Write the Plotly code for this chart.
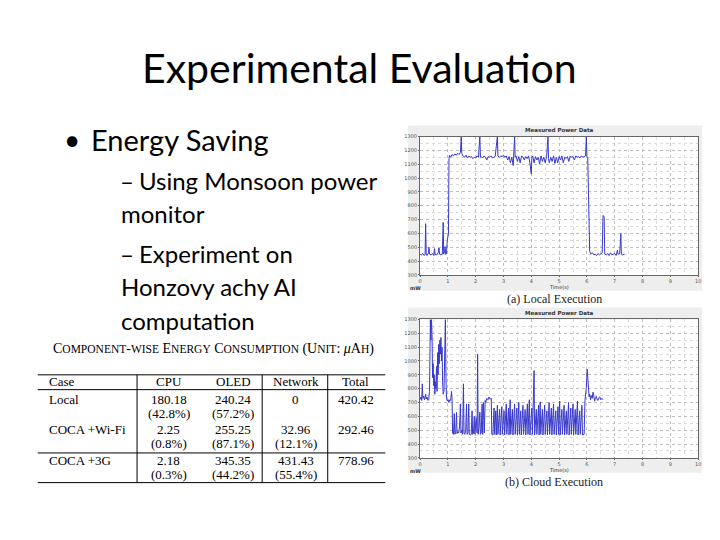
import plotly.graph_objects as go

# ---------------- data ----------------
local_t = [0.00, 0.05, 0.10, 0.15, 0.18, 0.20, 0.22, 0.25, 0.30, 0.32, 0.34, 0.40, 0.45, 0.50, 0.52, 0.54,
           0.60, 0.65, 0.68, 0.70, 0.75, 0.80, 0.83, 0.85, 0.88, 0.90, 0.92, 0.95, 0.98, 1.00, 1.02, 1.04,
           1.06, 1.10, 1.15, 1.20, 1.25, 1.30, 1.35, 1.40, 1.45, 1.48, 1.50, 1.55, 1.60, 1.65, 1.70, 1.75,
           1.80, 1.85, 1.90, 1.95, 2.00, 2.05, 2.10, 2.15, 2.17, 2.20, 2.25, 2.30, 2.35, 2.40, 2.45, 2.50,
           2.55, 2.60, 2.65, 2.70, 2.78, 2.80, 2.85, 2.90, 2.95, 3.00, 3.05, 3.10, 3.15, 3.20, 3.25, 3.30,
           3.35, 3.40, 3.42, 3.45, 3.50, 3.55, 3.60, 3.65, 3.70, 3.75, 3.80, 3.85, 3.90, 3.95, 4.00, 4.02,
           4.05, 4.10, 4.15, 4.20, 4.25, 4.30, 4.35, 4.40, 4.45, 4.50, 4.55, 4.60, 4.62, 4.65, 4.70, 4.75,
           4.80, 4.85, 4.90, 4.95, 5.00, 5.05, 5.10, 5.15, 5.20, 5.25, 5.30, 5.35, 5.40, 5.45, 5.50, 5.55,
           5.60, 5.65, 5.70, 5.75, 5.80, 5.85, 5.90, 5.95, 5.98, 6.00, 6.03, 6.05, 6.07, 6.10, 6.15, 6.20,
           6.25, 6.30, 6.35, 6.40, 6.45, 6.50, 6.55, 6.58, 6.62, 6.64, 6.70, 6.75, 6.80, 6.85, 6.90, 6.95,
           7.00, 7.05, 7.10, 7.12, 7.18, 7.22, 7.24, 7.28, 7.35]
local_mw = [450, 445, 455, 440, 450, 670, 450, 440, 460, 500, 450, 445, 455, 440, 490, 450,
            445, 460, 495, 450, 445, 450, 680, 450, 470, 505, 450, 455, 560, 585, 590, 1140,
            1165, 1150, 1170, 1160, 1175, 1165, 1180, 1170, 1185, 1300, 1175, 1160, 1150, 1165, 1145, 1160,
            1150, 1155, 1140, 1150, 1145, 1160, 1150, 1300, 1150, 1155, 1145, 1160, 1150, 1130, 1155, 1150,
            1160, 1145, 1150, 1155, 1300, 1160, 1150, 1160, 1155, 1165, 1150, 1160, 1130, 1155, 1110, 1150,
            1090, 1300, 1150, 1160, 1120, 1155, 1110, 1160, 1150, 1130, 1155, 1140, 1160, 1110, 1030, 1150,
            1160, 1110, 1155, 1130, 1150, 1100, 1160, 1120, 1150, 1110, 1155, 1300, 1140, 1110, 1150, 1120,
            1160, 1105, 1150, 1110, 1155, 1130, 1160, 1110, 1150, 1140, 1155, 1120, 1160, 1150, 1155, 1130,
            1160, 1150, 1155, 1145, 1160, 1150, 1155, 1160, 1300, 1155, 1150, 900, 540, 470, 450, 460,
            445, 450, 440, 455, 445, 450, 460, 730, 720, 450, 445, 455, 440, 460, 445, 450,
            455, 440, 480, 450, 455, 600, 450, 445, 450]

cloud_t = [0.00, 0.03, 0.06, 0.08, 0.10, 0.13, 0.16, 0.20, 0.22, 0.25, 0.28, 0.31, 0.34, 0.37, 0.39, 0.41,
           0.43, 0.45, 0.47, 0.49, 0.51, 0.53, 0.55, 0.57, 0.59, 0.61, 0.63, 0.65, 0.67, 0.69, 0.71, 0.73,
           0.75, 0.77, 0.79, 0.81, 0.83, 0.86, 0.89, 0.91, 0.93, 0.95, 0.98, 1.01, 1.04, 1.07, 1.10, 1.13,
           1.15, 1.17, 1.20, 1.23, 1.25, 1.28, 1.31, 1.33, 1.36, 1.39, 1.42, 1.45, 1.47, 1.50, 1.53, 1.56,
           1.58, 1.61, 1.64, 1.67, 1.69, 1.72, 1.75, 1.77, 1.80, 1.84, 1.87, 1.89, 1.92, 1.95, 1.97, 2.00,
           2.02, 2.05, 2.07, 2.09, 2.12, 2.15, 2.17, 2.20, 2.23, 2.25, 2.28, 2.31, 2.34, 2.36, 2.40, 2.44,
           2.48, 2.52, 2.56, 2.58, 2.62, 2.66, 2.68, 2.72, 2.74, 2.78, 2.80, 2.86, 2.88, 2.94, 2.96, 3.02,
           3.04, 3.10, 3.12, 3.18, 3.20, 3.24, 3.26, 3.32, 3.34, 3.40, 3.42, 3.48, 3.50, 3.55, 3.57, 3.62,
           3.64, 3.70, 3.72, 3.78, 3.80, 3.86, 3.88, 3.93, 3.95, 4.02, 4.04, 4.10, 4.12, 4.18, 4.20, 4.26,
           4.28, 4.32, 4.34, 4.40, 4.42, 4.48, 4.50, 4.56, 4.58, 4.64, 4.66, 4.72, 4.74, 4.80, 4.82, 4.88,
           4.90, 4.96, 4.98, 5.02, 5.04, 5.10, 5.12, 5.18, 5.20, 5.26, 5.28, 5.34, 5.36, 5.42, 5.44, 5.50,
           5.52, 5.58, 5.60, 5.66, 5.68, 5.74, 5.76, 5.82, 5.84, 5.90, 5.93, 5.96, 5.98, 6.01, 6.03, 6.05,
           6.08, 6.10, 6.13, 6.16, 6.19, 6.22, 6.25, 6.28, 6.31, 6.34, 6.37, 6.40, 6.43, 6.46, 6.50, 6.54,
           6.58]
cloud_mw = [720, 740, 715, 835, 730, 745, 720, 760, 725, 740, 715, 720, 780, 1300, 1150, 1300,
            1190, 880, 980, 820, 900, 760, 850, 800, 960, 780, 1060, 900, 1120, 980, 1150, 1050,
            1170, 1000, 1100, 850, 760, 780, 1000, 1300, 900, 730, 710, 720, 700, 720, 715, 780,
            730, 480, 470, 620, 470, 480, 630, 475, 490, 480, 530, 690, 480, 500, 470, 835,
            480, 470, 500, 690, 470, 480, 690, 470, 465, 470, 640, 470, 480, 600, 470, 560,
            590, 480, 1050, 470, 520, 630, 470, 480, 690, 470, 700, 480, 715, 700, 730, 720,
            740, 725, 730, 470, 465, 660, 470, 640, 465, 680, 470, 650, 465, 670, 470, 640,
            465, 690, 470, 660, 465, 720, 470, 650, 465, 690, 470, 660, 465, 700, 470, 640,
            465, 680, 470, 650, 465, 690, 470, 720, 465, 660, 470, 930, 465, 650, 470, 680,
            465, 705, 470, 650, 465, 680, 470, 640, 465, 700, 470, 660, 465, 690, 470, 640,
            465, 670, 470, 710, 465, 650, 470, 680, 465, 640, 470, 700, 465, 660, 470, 690,
            465, 650, 470, 710, 465, 640, 470, 680, 465, 470, 715, 760, 810, 940, 880, 770,
            740, 760, 720, 750, 730, 775, 720, 710, 735, 745, 720, 715, 735, 740, 720, 730,
            720]

x_ticks = [0, 1, 2, 3, 4, 5, 6, 7, 8, 9, 10]
y_ticks = [300, 400, 500, 600, 700, 800, 900, 1000, 1100, 1200, 1300]

table_header = ["Case", "CPU", "OLED", "Network", "Total"]
table_cases = ["Local", "COCA +Wi-Fi", "COCA +3G"]
table_cpu = ["180.18", "2.25", "2.18"]
table_cpu_pct = ["(42.8%)", "(0.8%)", "(0.3%)"]
table_oled = ["240.24", "255.25", "345.35"]
table_oled_pct = ["(57.2%)", "(87.1%)", "(44.2%)"]
table_net = ["0", "32.96", "431.43"]
table_net_pct = ["", "(12.1%)", "(55.4%)"]
table_total = ["420.42", "292.46", "778.96"]

# ---------------- helpers (pixel -> paper) ----------------
W, H = 720, 540
def px(x):
    return x / W
def py(y):
    return 1 - y / H

fig = go.Figure()
line_col = "#3838cc"
fig.add_trace(go.Scatter(x=local_t, y=local_mw, mode="lines", line=dict(color=line_col, width=1),
                         xaxis="x", yaxis="y", hoverinfo="skip"))
fig.add_trace(go.Scatter(x=cloud_t, y=cloud_mw, mode="lines", line=dict(color=line_col, width=1),
                         xaxis="x2", yaxis="y2", hoverinfo="skip"))

ax_common = dict(showline=True, linecolor="#666666", linewidth=1, mirror=True,
                 showgrid=True, gridcolor="#bdbdbd", griddash="dot", gridwidth=1,
                 zeroline=False, ticks="outside", ticklen=1, tickcolor="#666666",
                 tickfont=dict(size=5, color="#555555", family="DejaVu Sans"))
xa = dict(ax_common, range=[0, 10], tickvals=x_ticks,
          minor=dict(dtick=0.5, showgrid=True, gridcolor="#dcdcdc", griddash="dot"),
          domain=[px(421), px(701)])
fig.update_layout(
    xaxis=dict(xa, anchor="y"),
    yaxis=dict(ax_common, range=[300, 1300], tickvals=y_ticks, anchor="x",
               minor=dict(dtick=50, showgrid=True, gridcolor="#dcdcdc", griddash="dot"),
               domain=[py(275), py(135)]),
    xaxis2=dict(xa, anchor="y2"),
    yaxis2=dict(ax_common, range=[300, 1300], tickvals=y_ticks, anchor="x2",
                minor=dict(dtick=50, showgrid=True, gridcolor="#dcdcdc", griddash="dot"),
                domain=[py(460), py(320)]),
)

shapes = []
# gray figure panels + white plot areas
for top, bot, ptop, pbot in [(124, 291, 135, 275), (308, 475, 320, 460)]:
    shapes.append(dict(type="rect", xref="paper", yref="paper", x0=px(409), x1=px(705),
                       y0=py(bot), y1=py(top), fillcolor="#eeeeee", line=dict(width=0), layer="below"))
    shapes.append(dict(type="rect", xref="paper", yref="paper", x0=px(421), x1=px(701),
                       y0=py(pbot), y1=py(ptop), fillcolor="#ffffff", line=dict(width=0), layer="below"))

# table rules
tl, tr = 36, 386
for yy in [376, 391, 455, 485]:
    shapes.append(dict(type="line", xref="paper", yref="paper", x0=px(tl), x1=px(tr),
                       y0=py(yy), y1=py(yy), line=dict(color="black", width=1)))
for xx in [136, 262, 328]:
    shapes.append(dict(type="line", xref="paper", yref="paper", x0=px(xx), x1=px(xx),
                       y0=py(376), y1=py(485), line=dict(color="black", width=1)))

ann = []
def text(x, y, s, size, family="Lato", color="black", xanchor="left", yanchor="middle"):
    ann.append(dict(x=px(x), y=py(y), xref="paper", yref="paper", text=s, showarrow=False,
                    xanchor=xanchor, yanchor=yanchor, font=dict(size=size, family=family, color=color)))

# slide text
text(360, 65, "Experimental Evaluation", 41, xanchor="center")
text(60, 138, "•", 28)
text(88, 138, "Energy Saving", 29)
text(117, 180, "–", 24)
text(136, 180, "Using Monsoon power", 24)
text(118, 213, "monitor", 24)
text(117, 253, "–", 24)
text(136, 253, "Experiment on", 24)
text(118, 287, "Honzovy achy AI", 24)
text(118, 321, "computation", 24)

# table caption (small caps)
def sc(s):
    return "<span style='font-size:11.5px'>" + s + "</span>"
cap = ("C" + sc("OMPONENT") + "-" + sc("WISE") + " E" + sc("NERGY") + " C" + sc("ONSUMPTION") +
       " (U" + sc("NIT") + ": <i>μ</i>A" + sc("H") + ")")
text(213, 350, cap, 14, family="Liberation Serif", xanchor="center")

serif = "Liberation Serif"
fs = 13
col_x = [45, 168, 233, 296, 356]
text(col_x[0], 383, table_header[0], fs, family=serif)
for i in range(1, 5):
    text(col_x[i], 383, table_header[i], fs, family=serif, xanchor="center")
row_y = [(401, 415), (431, 445), (463, 477)]
for r in range(3):
    y1, y2 = row_y[r]
    text(col_x[0], y1, table_cases[r], fs, family=serif)
    text(col_x[1], y1, table_cpu[r], fs, family=serif, xanchor="center")
    text(col_x[1], y2, table_cpu_pct[r], fs, family=serif, xanchor="center")
    text(col_x[2], y1, table_oled[r], fs, family=serif, xanchor="center")
    text(col_x[2], y2, table_oled_pct[r], fs, family=serif, xanchor="center")
    text(col_x[3], y1, table_net[r], fs, family=serif, xanchor="center")
    if table_net_pct[r]:
        text(col_x[3], y2, table_net_pct[r], fs, family=serif, xanchor="center")
    text(col_x[4], y1, table_total[r], fs, family=serif, xanchor="center")

# plot decorations
for top_title, ax_y, cap_y, caption in [(128, 287, 299, "(a) Local Execution"),
                                        (313, 472, 484, "(b) Cloud Execution")]:
    text(561, top_title, "<b>Measured Power Data</b>", 5.5, family="DejaVu Sans", color="#333333",
         xanchor="center")
    text(561, ax_y, "Time(s)", 5, family="DejaVu Sans", color="#333333", xanchor="center")
    text(409, ax_y + 1, "<b>mW</b>", 5, family="DejaVu Sans", color="#333333")
    text(556, cap_y, caption, 12, family=serif, color="#222222", xanchor="center")

fig.update_layout(width=W, height=H, autosize=False, margin=dict(l=0, r=0, t=0, b=0),
                  paper_bgcolor="white", plot_bgcolor="rgba(0,0,0,0)", showlegend=False,
                  shapes=shapes, annotations=ann, hovermode=False)

fig.write_html("out.html")
